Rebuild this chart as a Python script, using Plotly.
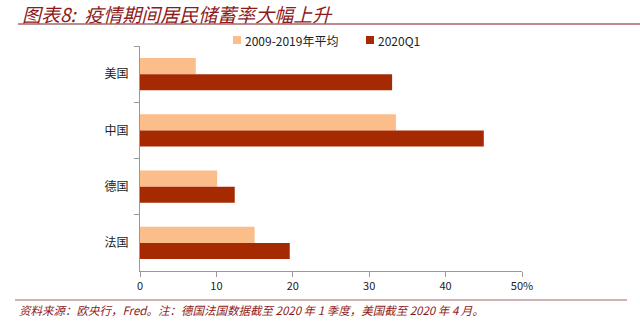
import plotly.graph_objects as go

# Household saving rates by country (%)
countries = ["美国", "中国", "德国", "法国"]
avg_2009_2019 = [7.3, 33.5, 10.1, 15.0]
q1_2020 = [33.0, 45.0, 12.4, 19.6]
series_names = ["2009-2019年平均", "2020Q1"]
x_ticks = [0, 10, 20, 30, 40, 50]
x_tick_labels = ["0", "10", "20", "30", "40", "50%"]

W, H = 640, 324
L, R, T, B = 140, 118, 46, 53
PW, PH = W - L - R, H - T - B


def px(x):
    return (x - L) / PW


def py(y):
    return 1 - (y - T) / PH


LIGHT = "#FBBD8A"
DARK = "#A52A02"
RED_TEXT = "#8E1B1B"
CJK = "Noto Sans CJK SC"
colors = [LIGHT, DARK]

fig = go.Figure()
for vals, name, col in zip([avg_2009_2019, q1_2020], series_names, colors):
    fig.add_trace(go.Bar(y=countries, x=vals, name=name, orientation="h",
                         marker=dict(color=col, line=dict(width=0)),
                         showlegend=False))

fig.update_layout(
    width=W, height=H,
    margin=dict(l=L, r=R, t=T, b=B),
    paper_bgcolor="white", plot_bgcolor="white",
    barmode="group", bargap=0.43, bargroupgap=0,
    font=dict(family=CJK, size=11, color="#222222"),
    xaxis=dict(range=[0, 50], tickvals=x_ticks, ticktext=x_tick_labels,
               showgrid=False, zeroline=False, showline=True, linecolor="#999999",
               linewidth=1, ticks="outside", ticklen=5, tickcolor="#999999",
               tickfont=dict(size=11, color="#222222")),
    yaxis=dict(autorange="reversed", showgrid=False, zeroline=False, showline=True,
               linecolor="#999999", linewidth=1, ticks="outside", ticklen=5,
               tickcolor="#999999", tickson="boundaries",
               tickfont=dict(size=12, color="#222222"), ticklabelstandoff=8),
)

# Legend: small swatches followed by series names
legend_pos = [233, 366]
for x0, name, col in zip(legend_pos, series_names, colors):
    fig.add_shape(type="rect", xref="paper", yref="paper",
                  x0=px(x0), x1=px(x0 + 8), y0=py(44), y1=py(36),
                  fillcolor=col, line=dict(width=0))
    fig.add_annotation(xref="paper", yref="paper", x=px(x0 + 10), y=py(40),
                       xanchor="left", yanchor="middle", showarrow=False,
                       text=name, font=dict(family=CJK, size=12, color="#222222"))

# Header and footer rules
fig.add_shape(type="line", xref="paper", yref="paper", x0=px(18), x1=px(640),
              y0=py(24), y1=py(24), line=dict(color="#A66466", width=1.5))
fig.add_shape(type="line", xref="paper", yref="paper", x0=px(15), x1=px(627),
              y0=py(300), y1=py(300), line=dict(color="#A66466", width=1.2))

fig.add_annotation(xref="paper", yref="paper", x=px(20), y=py(13.5), xanchor="left",
                   yanchor="middle", showarrow=False,
                   text="<i>图表8:  疫情期间居民储蓄率大幅上升</i>",
                   font=dict(family=CJK, size=19, color=RED_TEXT))
fig.add_annotation(xref="paper", yref="paper", x=px(17), y=py(310), xanchor="left",
                   yanchor="middle", showarrow=False,
                   text="<i>资料来源：欧央行，Fred。注：德国法国数据截至 2020 年 1 季度，美国截至 2020 年 4 月。</i>",
                   font=dict(family=CJK, size=11.5, color=RED_TEXT))

fig.write_html("out.html")
